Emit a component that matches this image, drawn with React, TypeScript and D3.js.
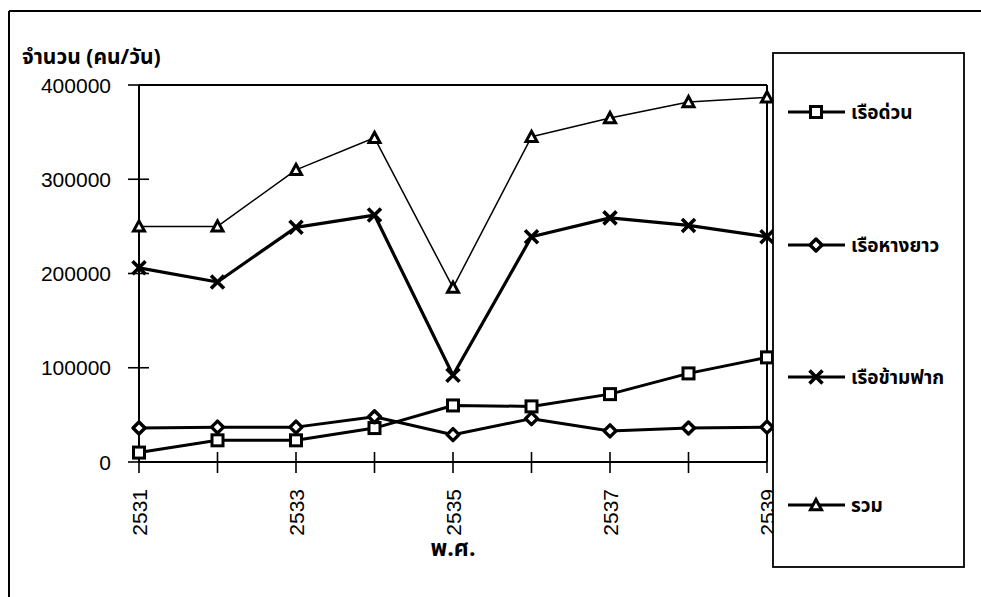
import React from "react";
import * as d3 from "d3";

const years = [2531, 2532, 2533, 2534, 2535, 2536, 2537, 2538, 2539];
const expressBoat = [10000, 23000, 23000, 36000, 60000, 59000, 72000, 94000, 111000];
const longTailBoat = [36000, 37000, 37000, 48000, 29000, 46000, 33000, 36000, 37000];
const ferryBoat = [206000, 191000, 249000, 262000, 92000, 239000, 259000, 251000, 239000];
const totalBoat = [250000, 250000, 310000, 344000, 185000, 345000, 365000, 382000, 387000];
const yTickValues = [0, 100000, 200000, 300000, 400000];
const xLabelYears = [2531, 2533, 2535, 2537, 2539];

const seriesNames = ["เรือด่วน", "เรือหางยาว", "เรือข้ามฟาก", "รวม"];
const seriesValues = [expressBoat, longTailBoat, ferryBoat, totalBoat];
const seriesMarkers = ["square", "diamond", "cross", "triangle"];
const seriesWidths = [3, 3, 3.2, 1.5];

const W = 981;
const H = 597;
const left = 139;
const right = 767;
const top = 85;
const bottom = 462;
const thaiFont = "'Noto Sans Thai', 'Noto Sans Thai UI', Tahoma, 'Liberation Sans', sans-serif";
const numFont = "'Liberation Sans', Arial, sans-serif";

function Marker({ kind, x, y }: { kind: string; x: number; y: number }) {
  if (kind === "square") {
    return <rect x={x - 5.5} y={y - 5.5} width={11} height={11} fill="#fff" stroke="#000" strokeWidth={3} />;
  }
  if (kind === "diamond") {
    const s = 6;
    return (
      <path d={`M${x},${y - s}L${x + s},${y}L${x},${y + s}L${x - s},${y}Z`} fill="#fff" stroke="#000" strokeWidth={3.4} strokeLinejoin="round" />
    );
  }
  if (kind === "triangle") {
    const s = 5.5;
    return (
      <path d={`M${x},${y - s}L${x + s},${y + s * 0.85}L${x - s},${y + s * 0.85}Z`} fill="#fff" stroke="#000" strokeWidth={3} strokeLinejoin="miter" />
    );
  }
  const s = 6.5;
  return (
    <path d={`M${x - s},${y - s}L${x + s},${y + s}M${x + s},${y - s}L${x - s},${y + s}`} stroke="#000" strokeWidth={3.6} />
  );
}

export default function App() {
  const x = d3.scaleLinear().domain([2531, 2539]).range([left, right]);
  const y = d3.scaleLinear().domain([0, 400000]).range([bottom, top]);
  const line = d3
    .line<number>()
    .x((_, i) => x(years[i]))
    .y((d) => y(d));

  const legendYs = [112, 245, 377, 505];

  return (
    <svg width={W} height={H} style={{ position: "absolute", left: 0, top: 0, background: "#fff" }}>
      <rect x={0} y={0} width={W} height={H} fill="#fff" />
      {/* outer frame */}
      <line x1={9} y1={11} x2={W} y2={11} stroke="#000" strokeWidth={2} />
      <line x1={9} y1={11} x2={9} y2={H} stroke="#000" strokeWidth={2} />

      {/* plot frame */}
      <line x1={left} y1={top} x2={right} y2={top} stroke="#000" strokeWidth={2} />
      <line x1={right} y1={top} x2={right} y2={bottom} stroke="#000" strokeWidth={2} />
      <line x1={left} y1={top} x2={left} y2={bottom} stroke="#000" strokeWidth={2} />
      <line x1={left} y1={bottom} x2={right} y2={bottom} stroke="#000" strokeWidth={2} />

      {yTickValues.map((v) => (
        <g key={v}>
          <line x1={left - 11} x2={left + 10} y1={y(v)} y2={y(v)} stroke="#000" strokeWidth={1.6} />
          <text x={111} y={y(v)} dy="0.36em" textAnchor="end" fontFamily={numFont} fontSize={21}>
            {v}
          </text>
        </g>
      ))}
      {years.map((yr) => (
        <line key={yr} x1={x(yr)} x2={x(yr)} y1={bottom - 10} y2={bottom + 11} stroke="#000" strokeWidth={1.6} />
      ))}
      {xLabelYears.map((yr) => (
        <text
          key={yr}
          transform={`translate(${x(yr)},${489}) rotate(-90)`}
          textAnchor="end"
          dy="0.36em"
          fontFamily={numFont}
          fontSize={21}
        >
          {yr}
        </text>
      ))}

      {/* series */}
      {seriesValues.map((vals, si) => (
        <path key={si} d={line(vals) || ""} fill="none" stroke="#000" strokeWidth={seriesWidths[si]} strokeLinejoin="round" />
      ))}
      {seriesValues.map((vals, si) => (
        <g key={"m" + si}>
          {vals.map((v, i) => (
            <Marker key={i} kind={seriesMarkers[si]} x={x(years[i])} y={y(v)} />
          ))}
        </g>
      ))}

      {/* titles */}
      <text x={22} y={64} fontFamily={thaiFont} fontWeight="bold" fontSize={21}>
        จำนวน (คน/วัน)
      </text>
      <text x={453} y={556} textAnchor="middle" fontFamily={thaiFont} fontWeight="bold" fontSize={23}>
        พ.ศ.
      </text>

      {/* legend */}
      <rect x={773} y={53} width={191} height={514} fill="#fff" stroke="#000" strokeWidth={1.8} />
      {seriesNames.map((name, i) => (
        <g key={name}>
          <line x1={788} x2={845} y1={legendYs[i]} y2={legendYs[i]} stroke="#000" strokeWidth={2.8} />
          <Marker kind={seriesMarkers[i]} x={816} y={legendYs[i]} />
          <text x={851} y={legendYs[i]} dy="0.36em" fontFamily={thaiFont} fontWeight="bold" fontSize={19}>
            {name}
          </text>
        </g>
      ))}
    </svg>
  );
}
